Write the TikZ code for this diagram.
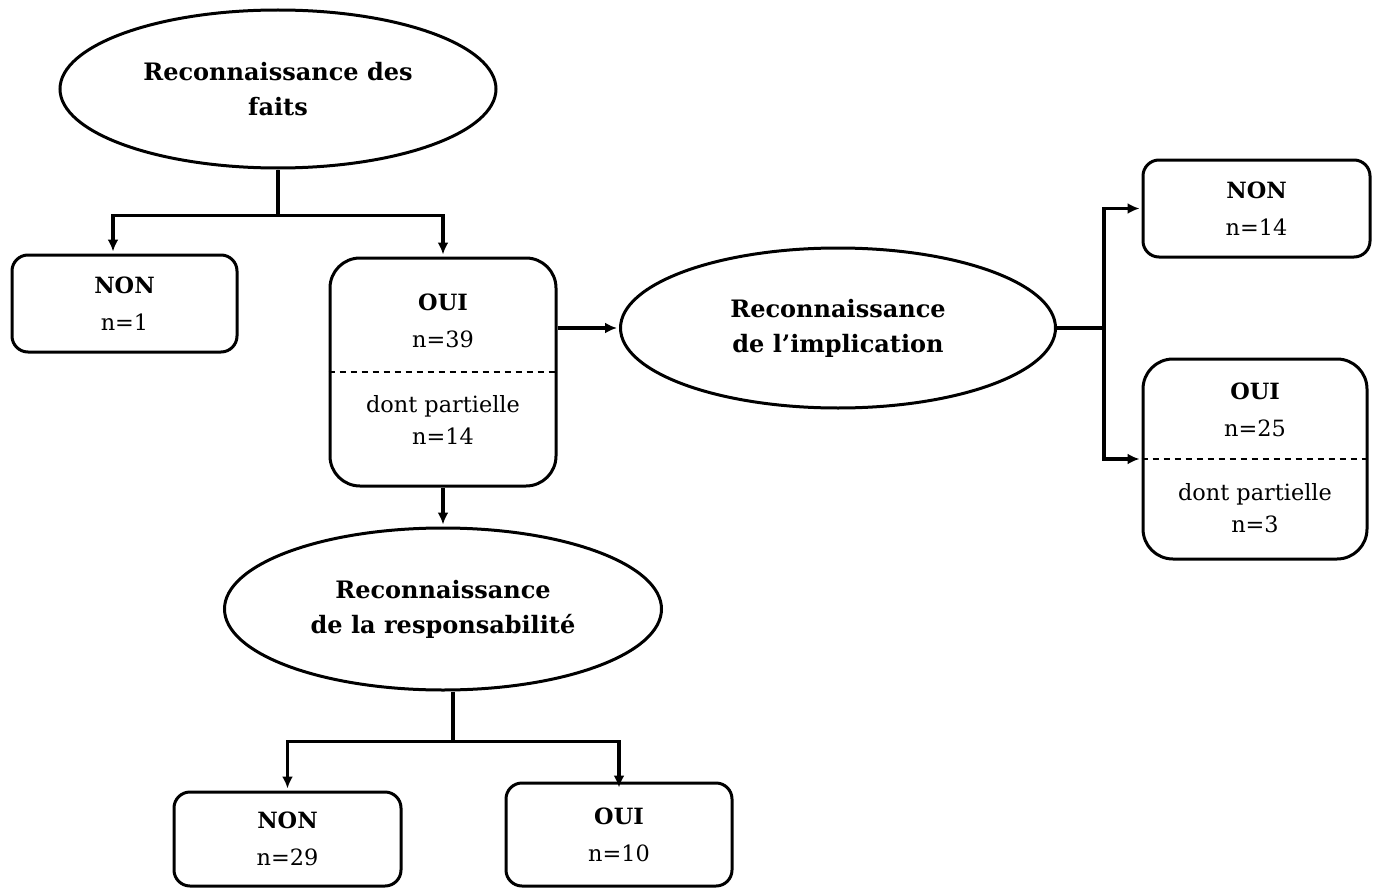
\documentclass[tikz,border=0pt]{standalone}
\usepackage{fontspec}
\setmainfont{DejaVu Serif}
\usetikzlibrary{shapes.geometric,arrows.meta}
\begin{document}
\begin{tikzpicture}[x=0.5pt,y=-0.5pt,
  every node/.style={inner sep=0pt},
  oval/.style={draw, ellipse, line width=1.5pt, align=center,
    font=\fontsize{12}{17.5}\selectfont\bfseries},
  smallbox/.style={draw, rounded corners=8pt, line width=1.5pt, align=center,
    font=\fontsize{11.2}{18.5}\selectfont},
  bigbox/.style={draw, rounded corners=15pt, line width=1.5pt},
  txt/.style={align=center, font=\fontsize{11.2}{18.5}\selectfont},
  subtxt/.style={align=center, font=\fontsize{11.2}{16}\selectfont},
  wire/.style={line width=1.6pt},
  arr/.style={line width=1.6pt, -{Latex[length=6pt,width=5.5pt]}, shorten >=1pt},
  split/.style={dashed, line width=0.6pt, dash pattern=on 3pt off 2.5pt}]
\useasboundingbox (0,0) rectangle (1381,888);

% first question
\node[oval, minimum width=218pt, minimum height=79pt] (faits) at (278,89)
  {Reconnaissance des\\faits};
\node[smallbox, minimum width=112.5pt, minimum height=48.5pt] (non1) at (124.5,303.5)
  {\textbf{NON}\\n=1};
\node[bigbox, minimum width=113pt, minimum height=114pt] (oui1) at (443,372) {};
\node[txt] (oui1top) at (443,321) {\textbf{OUI}\\n=39};
\node[subtxt] (oui1bot) at (443,420) {dont partielle\\n=14};
\draw[split] (oui1.west) -- (oui1.east);

\draw[wire] (faits.south) -- ++(0,46) coordinate (j1);
\draw[arr] (j1) -| ([xshift=-5.75pt]non1.north);
\draw[arr] (j1) -| (oui1.north);

% implication
\node[oval, minimum width=217.5pt, minimum height=80pt] (impl) at (838,328)
  {Reconnaissance\\de l’implication};
\node[smallbox, minimum width=113.5pt, minimum height=48.5pt] (non2) at (1256.5,208.5)
  {\textbf{NON}\\n=14};
\node[bigbox, minimum width=112pt, minimum height=100pt] (oui2) at (1255,459) {};
\node[txt] (oui2top) at (1255,409.5) {\textbf{OUI}\\n=25};
\node[subtxt] (oui2bot) at (1255,508) {dont partielle\\n=3};
\draw[split] (oui2.west) -- (oui2.east);

\draw[arr] (oui1.east |- impl.west) -- (impl.west);
\draw[wire] (impl.east) -- ++(47,0) coordinate (j2);
\draw[arr] (j2) |- (non2.west);
\draw[arr] (j2) |- (oui2.west);

% responsibility
\node[oval, minimum width=218.5pt, minimum height=81pt] (resp) at (443,609)
  {Reconnaissance\\de la responsabilité};
\node[smallbox, minimum width=113.5pt, minimum height=47pt] (non3) at (287.5,839)
  {\textbf{NON}\\n=29};
\node[smallbox, minimum width=113pt, minimum height=51.5pt] (oui3) at (619,834.5)
  {\textbf{OUI}\\n=10};

\draw[arr] (oui1.south) -- (resp.north);
\draw[wire] ([xshift=5pt]resp.south) -- ++(0,50) coordinate (j3);
\draw[arr] (j3) -| (non3.north);
\draw[arr] (j3) -| ([yshift=-4pt]oui3.north);
\end{tikzpicture}
\end{document}
